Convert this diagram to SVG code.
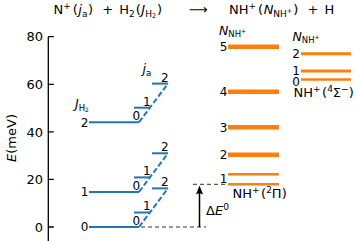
<svg xmlns="http://www.w3.org/2000/svg" width="356" height="241" viewBox="0 0 356 241">
<style>
text{font-family:"DejaVu Sans","Liberation Sans",sans-serif;fill:#000}
.t{font-size:13px}
.l{font-size:12px}
.end{text-anchor:end}
.i{font-style:italic}
.b{stroke:#1f77b4;stroke-width:2;fill:none}
.bd{stroke:#1f77b4;stroke-width:2;fill:none;stroke-dasharray:5.5 2.5}
.o{stroke:#ff7f0e;stroke-width:4.5;fill:none}
.os{stroke:#ff7f0e;stroke-width:2.5;fill:none}
.or{stroke:#ff7f0e;stroke-width:3;fill:none}
.k{stroke:#000;stroke-width:1.3;fill:none}
.kd{stroke:#333;stroke-width:1;fill:none;stroke-dasharray:4 3}
</style>
<g id="title">
<text class="t" x="53.5" y="14">N<tspan font-size="9" dy="-5">+</tspan><tspan dy="5" dx="2">(</tspan><tspan class="i" dx="0.5">j</tspan><tspan font-size="9" dy="2.5">a</tspan><tspan dy="-2.5" dx="0.5">)</tspan><tspan dx="5"> + </tspan><tspan dx="2">H</tspan><tspan font-size="9" dy="2.5">2</tspan><tspan dy="-2.5" dx="1">(</tspan><tspan class="i" dx="0.5">J</tspan><tspan font-size="9" dy="2.5">H</tspan><tspan font-size="6.5" dy="1.5">2</tspan><tspan dy="-4" dx="1">)</tspan></text>
<text class="t" x="189" y="14">⟶</text>
<text class="t" x="229" y="14">NH<tspan font-size="9" dy="-5">+</tspan><tspan dy="5" dx="2">(</tspan><tspan class="i" dx="0.5">N</tspan><tspan font-size="9" dy="2.5">NH</tspan><tspan font-size="6.5" dy="-4">+</tspan><tspan dy="1.5" dx="1">)</tspan><tspan dx="5"> + </tspan><tspan dx="2">H</tspan></text>
</g>
<g id="axis">
<line class="k" x1="48.3" y1="36.7" x2="48.3" y2="241"/>
<path class="k" d="M48.3 227H53.8M48.3 179.4H53.8M48.3 131.8H53.8M48.3 84.3H53.8M48.3 36.7H53.8"/>
<text class="t end" x="43" y="231.7">0</text>
<text class="t end" x="43" y="184.1">20</text>
<text class="t end" x="43" y="136.5">40</text>
<text class="t end" x="43" y="89">60</text>
<text class="t end" x="43" y="41.4">80</text>
<text class="t" transform="translate(15.5,138) rotate(-90)" text-anchor="middle"><tspan class="i">E</tspan>(meV)</text>
</g>
<g id="labels-h2">
<text class="l" x="75" y="108"><tspan class="i" font-size="12.5">J</tspan><tspan font-size="8.5" dy="2.5">H</tspan><tspan font-size="6" dy="1.5">2</tspan></text>
<text class="l" x="142.5" y="73"><tspan class="i" font-size="12.5">j</tspan><tspan font-size="8.5" dy="2.5">a</tspan></text>
</g>
<g id="J0">
<line class="b" x1="89" y1="227" x2="139" y2="227"/>
<line class="b" x1="134" y1="212.5" x2="150" y2="212.5"/>
<line class="b" x1="152" y1="188.4" x2="168" y2="188.4"/>
<text class="l end" x="88.5" y="231.3">0</text>
<text class="l end" x="140.2" y="225">0</text>
<text class="l end" x="150.6" y="210.3">1</text>
<text class="l end" x="168.6" y="186.4">2</text>
</g>
<g id="J1">
<line class="b" x1="89" y1="191.9" x2="139" y2="191.9"/>
<line class="b" x1="134" y1="177.4" x2="150" y2="177.4"/>
<line class="b" x1="152" y1="153.3" x2="168" y2="153.3"/>
<text class="l end" x="88.5" y="196.2">1</text>
<text class="l end" x="140.2" y="189.9">0</text>
<text class="l end" x="150.6" y="175.2">1</text>
<text class="l end" x="168.6" y="151.3">2</text>
</g>
<g id="J2">
<line class="b" x1="89" y1="122.2" x2="139" y2="122.2"/>
<line class="b" x1="134" y1="107.7" x2="150" y2="107.7"/>
<line class="b" x1="152" y1="83.6" x2="168" y2="83.6"/>
<text class="l end" x="88.5" y="126.5">2</text>
<text class="l end" x="140.2" y="120.2">0</text>
<text class="l end" x="150.6" y="105.5">1</text>
<text class="l end" x="168.6" y="81.6">2</text>
</g>
<g id="NH-2Pi">
<text class="l" x="219" y="34.5"><tspan class="i" font-size="12.5">N</tspan><tspan font-size="8.5" dy="2">NH</tspan><tspan font-size="6" dy="-4">+</tspan></text>
<line class="o" x1="228" y1="46.7" x2="279" y2="46.7"/>
<line class="o" x1="228" y1="91.7" x2="279" y2="91.7"/>
<line class="o" x1="228" y1="127.3" x2="279" y2="127.3"/>
<line class="o" x1="228" y1="154.7" x2="279" y2="154.7"/>
<line class="os" x1="228" y1="174.3" x2="279" y2="174.3"/>
<line class="os" x1="228" y1="184.2" x2="279" y2="184.2"/>
<text class="l end" x="227.3" y="51.1">5</text>
<text class="l end" x="227.3" y="96.1">4</text>
<text class="l end" x="227.3" y="131.7">3</text>
<text class="l end" x="227.3" y="159.1">2</text>
<text class="l end" x="227.3" y="182.5">1</text>
<text class="t" x="232.5" y="198">NH<tspan font-size="9" dy="-5">+</tspan><tspan dy="5" dx="1.5">(</tspan><tspan font-size="9" dy="-5">2</tspan><tspan dy="5">Π)</tspan></text>
</g>
<g id="NH-4Sigma">
<text class="l" x="292.5" y="41"><tspan class="i" font-size="12.5">N</tspan><tspan font-size="8.5" dy="2">NH</tspan><tspan font-size="6" dy="-4">+</tspan></text>
<line class="or" x1="301" y1="53.8" x2="351" y2="53.8"/>
<line class="or" x1="301" y1="71" x2="351" y2="71"/>
<line class="os" x1="301" y1="79.5" x2="351" y2="79.5"/>
<text class="l end" x="299.8" y="58.2">2</text>
<text class="l end" x="299.8" y="74.5">1</text>
<text class="l end" x="299.8" y="85.6">0</text>
<text class="t" x="293.5" y="96.5">NH<tspan font-size="9" dy="-5">+</tspan><tspan dy="5" dx="1.5">(</tspan><tspan font-size="9" dy="-5">4</tspan><tspan dy="5">Σ</tspan><tspan font-size="9" dy="-5">−</tspan><tspan dy="5">)</tspan></text>
</g>
<g id="connectors">
<line class="bd" x1="139" y1="227" x2="168" y2="188.4"/>
<line class="bd" x1="139" y1="191.9" x2="168" y2="153.3"/>
<line class="bd" x1="139" y1="122.2" x2="168" y2="83.6"/>
<line class="kd" x1="141" y1="227" x2="206" y2="227"/>
<line class="kd" x1="193" y1="184.3" x2="228" y2="184.3"/>
<line stroke="#000" stroke-width="1.5" x1="199.5" y1="227" x2="199.5" y2="192"/>
<path d="M199.5 185.5L203 194.5L199.5 193L196 194.5Z" fill="#000"/>
<text class="t" x="206" y="215">Δ<tspan class="i">E</tspan><tspan font-size="9" dy="-5">0</tspan></text>
</g>
</svg>
